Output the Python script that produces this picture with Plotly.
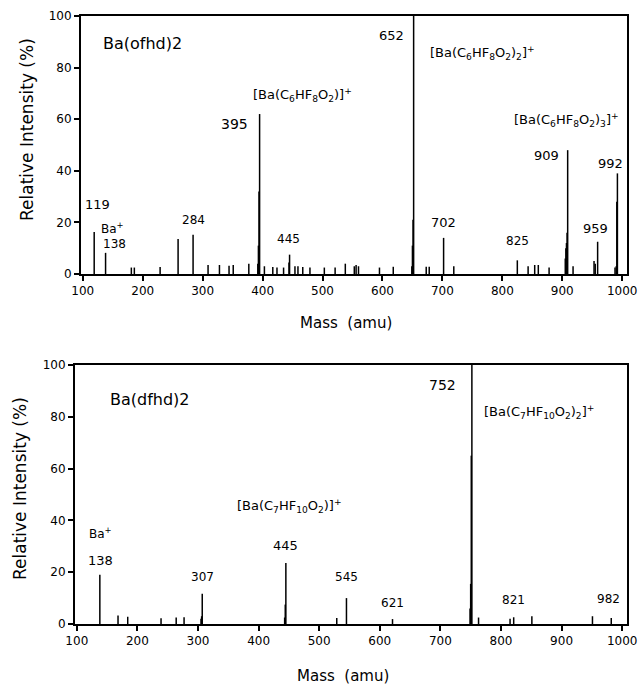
import plotly.graph_objects as go

# ---------------- data ----------------
# Ba(ofhd)2 spectrum (mass in amu, relative intensity in %)
top_mass = [119, 138, 181, 186, 229, 259, 284, 309, 328, 344, 351, 377,
            392, 393, 394, 395, 403, 417, 424, 435, 444, 445, 454, 459, 467,
            479, 503, 521, 538, 553, 556, 560, 595, 618,
            649, 650, 651, 652, 673, 678, 702, 719, 825, 843, 854, 860, 878,
            905, 906, 907, 908, 909, 918, 953, 955, 959, 988, 990, 991, 992]
top_int = [16.3, 8.2, 2.5, 2.5, 2.7, 13.6, 15.2, 3.5, 3.5, 3.2, 3.5, 4.0,
           4.0, 11.0, 32.0, 62.0, 3.0, 2.7, 2.5, 2.5, 4.5, 7.5, 3.0, 3.0, 2.7,
           2.5, 2.5, 2.5, 4.0, 3.0, 3.5, 3.0, 2.5, 2.8,
           3.0, 11.0, 21.0, 100.0, 2.8, 2.8, 14.0, 3.0, 5.3, 3.0, 3.5, 3.5, 2.5,
           6.0, 10.0, 12.0, 16.0, 48.0, 3.0, 5.0, 4.0, 12.5, 2.5, 3.0, 28.0, 39.0]

# Ba(dfhd)2 spectrum
bot_mass = [138, 168, 184, 239, 264, 277, 305, 306, 307, 443, 444, 445,
            529, 545, 621, 749, 750, 751, 752, 763, 815, 821, 851, 951, 982]
bot_int = [19.0, 3.3, 2.8, 2.2, 2.5, 2.6, 2.0, 3.0, 11.7, 2.5, 7.5, 23.6,
           2.3, 10.0, 1.9, 6.0, 15.5, 65.0, 100.0, 2.5, 2.0, 2.6, 3.0, 3.0, 2.3]

x_ticks = [100, 200, 300, 400, 500, 600, 700, 800, 900, 1000]
y_ticks = [0, 20, 40, 60, 80, 100]

x_title = "Mass  (amu)"
y_title = "Relative Intensity (%)"

FONT = "DejaVu Sans"
W, H = 640, 686


def sticks(masses, vals):
    xs, ys = [], []
    for m, v in zip(masses, vals):
        xs += [m, m, None]
        ys += [0, v, None]
    return xs, ys


fig = go.Figure()
for (m, v, xa, ya) in [(top_mass, top_int, "x", "y"), (bot_mass, bot_int, "x2", "y2")]:
    xs, ys = sticks(m, v)
    fig.add_trace(go.Scatter(x=xs, y=ys, mode="lines",
                             line=dict(color="black", width=1.5),
                             xaxis=xa, yaxis=ya, hoverinfo="skip",
                             showlegend=False))

axis_common = dict(showline=True, linecolor="black", linewidth=2, mirror=True,
                   ticks="outside", ticklen=5, tickwidth=1.5, tickcolor="black",
                   showgrid=False, zeroline=False, automargin=False,
                   tickfont=dict(family=FONT, size=12, color="black"))

fig.update_layout(
    template="none",
    width=W, height=H,
    margin=dict(l=0, r=0, t=0, b=0, pad=0, autoexpand=False),
    paper_bgcolor="white", plot_bgcolor="white",
    xaxis=dict(domain=[81 / W, 627 / W], range=[97, 1008], anchor="y",
               tickvals=x_ticks, ticktext=[str(t) for t in x_ticks], **axis_common),
    yaxis=dict(domain=[1 - 274 / H, 1 - 16 / H], range=[0, 100], anchor="x",
               tickvals=y_ticks, ticktext=[str(t) for t in y_ticks], **axis_common),
    xaxis2=dict(domain=[75 / W, 627 / W], range=[97, 1008], anchor="y2",
                tickvals=x_ticks, ticktext=[str(t) for t in x_ticks], **axis_common),
    yaxis2=dict(domain=[1 - 624 / H, 1 - 365 / H], range=[0, 100], anchor="x2",
                tickvals=y_ticks, ticktext=[str(t) for t in y_ticks], **axis_common),
)

ann = []


def lab(text, x, y, ax="x", ay="y", xanchor="center", size=13):
    ann.append(dict(text=text, x=x, y=y, xref=ax, yref=ay, xanchor=xanchor,
                    yanchor="middle", showarrow=False, borderpad=0,
                    font=dict(family=FONT, size=size, color="black")))


f1 = "[Ba(C<sub>6</sub>HF<sub>8</sub>O<sub>2</sub>)]<sup>+</sup>"
f2 = "[Ba(C<sub>6</sub>HF<sub>8</sub>O<sub>2</sub>)<sub>2</sub>]<sup>+</sup>"
f3 = "[Ba(C<sub>6</sub>HF<sub>8</sub>O<sub>2</sub>)<sub>3</sub>]<sup>+</sup>"
g1 = "[Ba(C<sub>7</sub>HF<sub>10</sub>O<sub>2</sub>)]<sup>+</sup>"
g2 = "[Ba(C<sub>7</sub>HF<sub>10</sub>O<sub>2</sub>)<sub>2</sub>]<sup>+</sup>"

# top panel labels
lab("Ba(ofhd)2", 132, 89.5, xanchor="left", size=16)
lab(f1, 383, 69.4, xanchor="left")
lab("395", 378, 58.1, xanchor="right", size=14)
lab("119", 124, 27)
lab("Ba<sup>+</sup>", 129, 17.8, xanchor="left", size=12)
lab("138", 132, 11.6, xanchor="left", size=12)
lab("284", 284, 20.9, size=12)
lab("445", 444, 13.6, size=12)
lab("652", 637, 92.6, xanchor="right", size=13)
lab(f2, 677, 85.7, xanchor="left")
lab(f3, 817, 59.7, xanchor="left")
lab("909", 873, 46.1, size=13)
lab("992", 981, 43.0)
lab("702", 702, 19.8)
lab("825", 825, 12.8, size=12)
lab("959", 955, 17.8)

# bottom panel labels
X2, Y2 = "x2", "y2"
lab("Ba(dfhd)2", 153, 86.5, X2, Y2, xanchor="left", size=16)
lab("Ba<sup>+</sup>", 119, 35.1, X2, Y2, xanchor="left", size=12)
lab("138", 139, 24.7, X2, Y2, size=13)
lab("307", 307, 18.1, X2, Y2, size=12)
lab(g1, 363, 45.6, X2, Y2, xanchor="left")
lab("445", 445, 30.5, X2, Y2, size=13)
lab("545", 545, 18.1, X2, Y2, size=12)
lab("621", 621, 8.1, X2, Y2, size=12)
lab("752", 728, 92.3, X2, Y2, xanchor="right", size=14)
lab(g2, 770, 81.9, X2, Y2, xanchor="left")
lab("821", 820, 9.3, X2, Y2, size=12)
lab("982", 977, 9.7, X2, Y2, size=12)

# axis titles
for (tx, ty) in [(346, 323), (343, 676)]:
    ann.append(dict(text=x_title, x=tx / W, y=1 - ty / H, xref="paper", yref="paper",
                    showarrow=False, xanchor="center", yanchor="middle",
                    font=dict(family=FONT, size=15, color="black")))
for (tx, ty) in [(27, 130), (20, 489)]:
    ann.append(dict(text=y_title, x=tx / W, y=1 - ty / H, xref="paper", yref="paper",
                    showarrow=False, xanchor="center", yanchor="middle", textangle=-90,
                    font=dict(family=FONT, size=17, color="black")))

fig.update_layout(annotations=ann)
fig.write_html("out.html")
